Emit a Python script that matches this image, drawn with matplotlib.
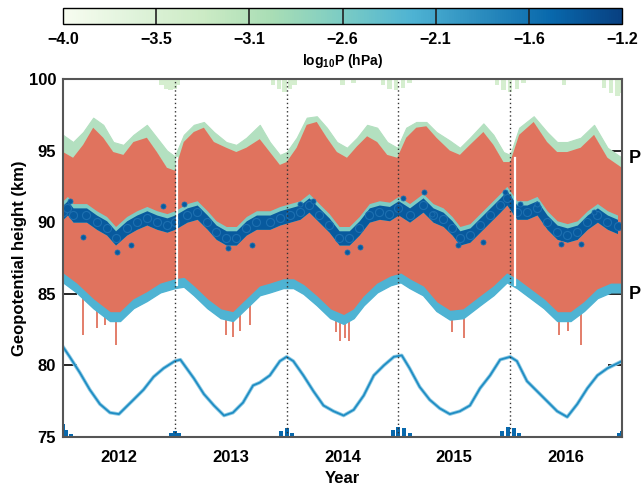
import numpy as np
import matplotlib
matplotlib.use("Agg")
import matplotlib.pyplot as plt
from matplotlib import colors, colorbar

# ---------------- data ----------------
# colorbar
cb_lo, cb_hi = -4.0, -1.2
cb_labels = ["\u22124.0", "\u22123.5", "\u22123.1", "\u22122.6", "\u22122.1", "\u22121.6", "\u22121.2"]

# upper envelope (green band top) and red band top
t_top = [2012.00, 2012.09, 2012.18, 2012.27, 2012.36, 2012.45, 2012.54, 2012.63, 2012.75, 2012.84, 2012.93,
         2013.00, 2013.08, 2013.17, 2013.26, 2013.35, 2013.46, 2013.55, 2013.64, 2013.76, 2013.85, 2013.94,
         2014.00, 2014.09, 2014.18, 2014.27, 2014.36, 2014.45, 2014.54, 2014.63, 2014.72, 2014.81, 2014.90, 2014.99,
         2015.07, 2015.16, 2015.25, 2015.34, 2015.46, 2015.55, 2015.64, 2015.76, 2015.85, 2015.94,
         2016.00, 2016.08, 2016.21, 2016.33, 2016.42, 2016.51, 2016.63, 2016.75, 2016.87, 2017.00]
green_top = [96.1, 95.6, 96.3, 97.3, 96.8, 95.6, 95.4, 96.1, 96.8, 95.9, 95.0,
             94.6, 96.1, 96.8, 97.0, 96.3, 95.6, 95.4, 95.9, 96.8, 95.6, 94.7,
             94.9, 95.9, 97.3, 97.4, 96.6, 95.6, 95.2, 95.9, 96.8, 96.6, 95.6, 95.2,
             96.6, 97.0, 97.0, 96.3, 95.7, 95.2, 95.9, 96.9, 96.1, 94.9,
             94.7, 96.6, 97.4, 96.3, 95.6, 95.6, 95.9, 96.8, 95.2, 94.5]
red_top = [94.9, 94.5, 95.4, 96.6, 95.9, 94.9, 94.7, 95.6, 95.9, 94.9, 93.8,
           93.6, 95.6, 96.3, 96.6, 95.6, 95.2, 94.9, 95.2, 95.8, 94.9, 94.0,
           94.2, 95.2, 96.8, 97.0, 95.9, 94.9, 94.5, 95.3, 96.0, 95.6, 94.7, 94.5,
           95.9, 96.6, 96.7, 95.9, 95.0, 94.7, 95.4, 96.3, 95.4, 94.2,
           94.2, 96.1, 97.0, 95.6, 94.9, 94.9, 95.2, 96.1, 94.5, 93.8]

# lower envelope (light blue band bottom)
t_bot = [2012.00, 2012.12, 2012.27, 2012.42, 2012.51, 2012.63, 2012.75, 2012.87,
         2013.00, 2013.08, 2013.17, 2013.29, 2013.41, 2013.52, 2013.64, 2013.76, 2013.85, 2013.97,
         2014.06, 2014.15, 2014.27, 2014.39, 2014.51, 2014.60, 2014.69, 2014.81, 2014.93,
         2015.02, 2015.10, 2015.22, 2015.34, 2015.46, 2015.58, 2015.73, 2015.85, 2015.97,
         2016.06, 2016.18, 2016.30, 2016.42, 2016.54, 2016.66, 2016.78, 2016.90, 2017.00]
lb_bot = [85.8, 85.1, 84.0, 83.1, 83.1, 84.0, 84.5, 85.1,
          85.4, 85.5, 84.9, 84.0, 83.3, 83.1, 84.0, 84.9, 85.1, 85.4,
          85.4, 85.0, 84.2, 83.3, 82.9, 83.3, 84.2, 85.1, 85.6,
          85.8, 85.4, 84.9, 83.8, 83.2, 83.3, 84.2, 84.9, 85.8,
          85.4, 84.7, 84.0, 83.1, 83.1, 83.8, 84.7, 85.1, 85.1]

# deepest red spikes below the band
t_spike = [2012.18, 2012.30, 2012.38, 2012.47, 2013.46, 2013.52, 2013.58, 2013.67, 2014.44, 2014.48, 2014.52,
           2014.56, 2015.48, 2015.59, 2016.44, 2016.52, 2016.63]
v_spike = [82.1, 82.6, 82.8, 81.4, 82.1, 82.0, 82.4, 82.8, 82.3, 81.7, 81.9,
           81.7, 82.3, 81.9, 82.1, 82.4, 81.4]

# dark-blue points near 90 km
t_dot = [2012.00, 2012.04, 2012.09, 2012.21, 2012.30, 2012.39, 2012.47, 2012.57, 2012.66, 2012.75, 2012.84, 2012.93,
         2013.00, 2013.11, 2013.20, 2013.29, 2013.37, 2013.46, 2013.55, 2013.64, 2013.73, 2013.85, 2013.94,
         2014.03, 2014.12, 2014.20, 2014.29, 2014.38, 2014.47, 2014.56, 2014.65, 2014.74, 2014.83, 2014.92,
         2015.00, 2015.10, 2015.22, 2015.31, 2015.40, 2015.48, 2015.55, 2015.64, 2015.73, 2015.82, 2015.91, 2015.97,
         2016.06, 2016.15, 2016.24, 2016.33, 2016.42, 2016.51, 2016.60, 2016.69, 2016.78, 2016.87, 2016.96]
v_dot = [90.7, 91.0, 90.5, 90.5, 90.0, 89.6, 88.9, 89.6, 90.0, 90.3, 90.0, 89.8,
         90.0, 90.5, 90.7, 90.0, 89.3, 88.9, 88.9, 89.6, 90.0, 90.0, 90.3,
         90.5, 90.7, 91.2, 90.5, 89.8, 88.9, 88.9, 89.6, 90.5, 90.7, 90.6,
         91.0, 90.5, 91.2, 90.5, 90.2, 89.6, 88.9, 89.1, 89.8, 90.5, 91.2, 91.7,
         90.7, 90.7, 91.0, 90.0, 89.3, 89.1, 89.3, 90.0, 90.5, 90.0, 89.7]
# scattered outlying points of the same series
t_out = [2012.06, 2012.18, 2012.48, 2012.61, 2012.89, 2013.08, 2013.48, 2013.69, 2014.12, 2014.24,
         2014.54, 2014.66, 2015.04, 2015.23, 2015.30, 2015.53, 2015.76, 2015.95, 2016.09, 2016.24,
         2016.45, 2016.63, 2016.75]
v_out = [91.5, 89.0, 87.9, 88.4, 91.1, 91.3, 88.2, 88.4, 91.3, 91.5,
         87.9, 88.3, 91.7, 92.1, 90.6, 88.4, 88.6, 92.1, 91.3, 91.3,
         88.5, 88.5, 90.7]

# mid-blue line near 78 km
t_mid = [2012.00, 2012.06, 2012.15, 2012.24, 2012.33, 2012.42, 2012.50, 2012.63, 2012.72, 2012.81, 2012.90,
         2013.00, 2013.05, 2013.17, 2013.26, 2013.35, 2013.44, 2013.52, 2013.61, 2013.70, 2013.76, 2013.85, 2013.94,
         2014.00, 2014.06, 2014.15, 2014.24, 2014.33, 2014.42, 2014.51, 2014.60, 2014.69, 2014.78, 2014.87, 2014.96,
         2015.03, 2015.10, 2015.19, 2015.28, 2015.37, 2015.46, 2015.55, 2015.64, 2015.73, 2015.82, 2015.91,
         2016.00, 2016.06, 2016.15, 2016.24, 2016.33, 2016.42, 2016.51, 2016.60, 2016.69, 2016.78, 2016.87, 2017.00]
v_mid = [81.3, 80.6, 79.5, 78.3, 77.3, 76.7, 76.6, 77.6, 78.3, 79.2, 79.8,
         80.3, 80.4, 79.1, 78.0, 77.2, 76.5, 76.7, 77.4, 78.6, 78.8, 79.3, 80.3,
         80.6, 80.3, 79.3, 78.2, 77.2, 76.8, 76.5, 76.9, 77.9, 79.3, 80.0, 80.6,
         80.7, 79.8, 78.5, 77.6, 77.0, 76.6, 76.8, 77.2, 78.4, 79.3, 80.4,
         80.6, 80.3, 78.9, 78.2, 77.5, 76.8, 76.4, 77.3, 78.4, 79.3, 79.8, 80.3]

# palest level reaching down from the top
t_pale = [2012.88, 2012.92, 2012.96, 2013.00, 2013.03,
          2013.88, 2013.93, 2013.98, 2014.03, 2014.07,
          2014.50, 2014.60,
          2014.86, 2014.92, 2014.98, 2015.04, 2015.10,
          2015.88, 2015.94, 2016.00, 2016.06, 2016.12,
          2016.48, 2016.84, 2016.90, 2016.96, 2017.00]
v_pale = [99.6, 99.3, 99.2, 99.3, 99.6,
          99.6, 99.3, 99.1, 99.3, 99.6,
          99.6, 99.7,
          99.6, 99.3, 99.2, 99.4, 99.7,
          99.6, 99.2, 99.1, 99.3, 99.7,
          99.6, 99.4, 99.0, 98.8, 99.0]

# deepest level poking up at the bottom
t_low = [2012.00, 2012.03, 2012.07, 2012.97, 2013.00, 2013.04, 2013.95, 2014.00, 2014.05,
         2014.95, 2015.00, 2015.05, 2015.10, 2015.93, 2015.98, 2016.03, 2016.08, 2016.97, 2017.00]
v_low = [75.9, 75.5, 75.2, 75.3, 75.4, 75.3, 75.4, 75.6, 75.3,
         75.5, 75.7, 75.6, 75.3, 75.4, 75.7, 75.6, 75.3, 75.3, 75.4]

# data gaps
t_gap = [2013.02, 2016.04]

year_ticks = [2012.5, 2013.5, 2014.5, 2015.5, 2016.5]
year_labels = ["2012", "2013", "2014", "2015", "2016"]
year_bounds = [2013, 2014, 2015, 2016]
y_ticks = [75, 80, 85, 90, 95, 100]
p_levels = [94.5, 85.0]
p_labels = ["P$_2$", "P$_3$"]

# ---------------- style ----------------
plt.rcParams['font.family'] = ['Liberation Sans', 'DejaVu Sans']
plt.rcParams['font.weight'] = 'bold'
plt.rcParams['mathtext.fontset'] = 'custom'
plt.rcParams['mathtext.bf'] = 'Liberation Sans:bold'
plt.rcParams['mathtext.rm'] = 'Liberation Sans:bold'
plt.rcParams['mathtext.default'] = 'bf'

c_red = '#e0735e'
c_green = '#b3e0c0'
c_pale = '#d5eecf'
c_teal = '#7dccc4'
c_lblue = '#4eb3d3'
c_mid = '#1f8dc4'
c_mid_halo = '#8fcbe4'
c_dark = '#085a9e'
c_low = '#0868ac'

fig = plt.figure(figsize=(6.41, 4.87), dpi=100)
ax = fig.add_axes([63/641, 1-437/487, 559/641, 358/487])
cax = fig.add_axes([63/641, 1-24/487, 559/641, 16/487])

# colorbar
cmap = plt.get_cmap('GnBu')
norm = colors.Normalize(vmin=cb_lo, vmax=cb_hi)
cb = colorbar.ColorbarBase(cax, cmap=cmap, norm=norm, orientation='horizontal')
pos = np.linspace(cb_lo, cb_hi, len(cb_labels))
cb.set_ticks(pos)
cb.set_ticklabels(cb_labels)
for p in pos[1:-1]:
    cax.axvline(p, color='#222222', lw=1.2)
cb.outline.set_linewidth(1.0)
cax.tick_params(length=0, labelsize=11.5, pad=6)
cb.set_label('log$_{10}$P (hPa)', fontsize=10, fontweight='bold', labelpad=3)

# main panel
ax.bar(t_pale, [100.5 - v for v in v_pale], bottom=v_pale, width=0.04, color=c_pale, zorder=1, lw=0)
ax.fill_between(t_top, red_top, green_top, color=c_green, lw=0.8, edgecolor=c_green, zorder=2)
ax.fill(np.concatenate([t_top, t_bot[::-1]]), np.concatenate([red_top, lb_bot[::-1]]),
        color=c_red, lw=0, zorder=3)
ax.vlines(t_spike, v_spike, 85.0, color=c_red, lw=1.3, zorder=3)
ax.fill_between(t_bot, lb_bot, np.array(lb_bot) + 0.6, color=c_lblue, lw=1.0, edgecolor=c_lblue, zorder=4)
ax.fill_between(t_dot, np.array(v_dot) - 0.5, np.array(v_dot) + 0.8, color=c_teal, lw=0, zorder=5)
ax.fill_between(t_dot, np.array(v_dot) - 0.5, np.array(v_dot) + 0.5, color=c_dark, lw=0, zorder=6)
ax.scatter(t_dot, v_dot, s=34, facecolor=c_dark, edgecolor='#1d6fb0', lw=0.8, zorder=7)
ax.scatter(t_out, v_out, s=13, facecolor=c_dark, edgecolor='#1d6fb0', lw=0.6, zorder=7)
ax.plot(t_mid, v_mid, color=c_mid_halo, lw=2.6, zorder=5, solid_joinstyle='round')
ax.plot(t_mid, v_mid, color=c_mid, lw=1.3, zorder=6)
ax.bar(t_low, [v - 74.5 for v in v_low], bottom=74.5, width=0.035, color=c_low, lw=0, zorder=6)
for tg in t_gap:
    ax.axvline(tg, ymin=(85.6 - 75) / 25, ymax=(94.5 - 75) / 25, color='white', lw=1.6, zorder=8)
for yb in year_bounds:
    ax.axvline(yb, color='#333333', lw=1.0, ls=(0, (1, 2)), zorder=9)

ax.set_xlim(2012, 2017)
ax.set_ylim(75, 100)
ax.set_xticks(year_ticks)
ax.set_xticklabels(year_labels)
ax.set_yticks(y_ticks)
ax.tick_params(axis='x', length=0, labelsize=12, pad=9)
ax.tick_params(axis='y', direction='in', length=10, width=1.2, labelsize=12, pad=5, right=True)
for s in ax.spines.values():
    s.set_color('#555555')
    s.set_linewidth(1.5)
    s.set_zorder(10)
ax.set_xlabel('Year', fontsize=12, fontweight='bold', labelpad=5)
ax.set_ylabel('Geopotential height (km)', fontsize=12, fontweight='bold', labelpad=1)
for pl, lab in zip(p_levels, p_labels):
    ax.text(1.0107, pl, lab, transform=ax.get_yaxis_transform(), ha='left', va='center',
            fontsize=13, fontweight='bold', clip_on=False)

fig.savefig('out.png', dpi=100)
